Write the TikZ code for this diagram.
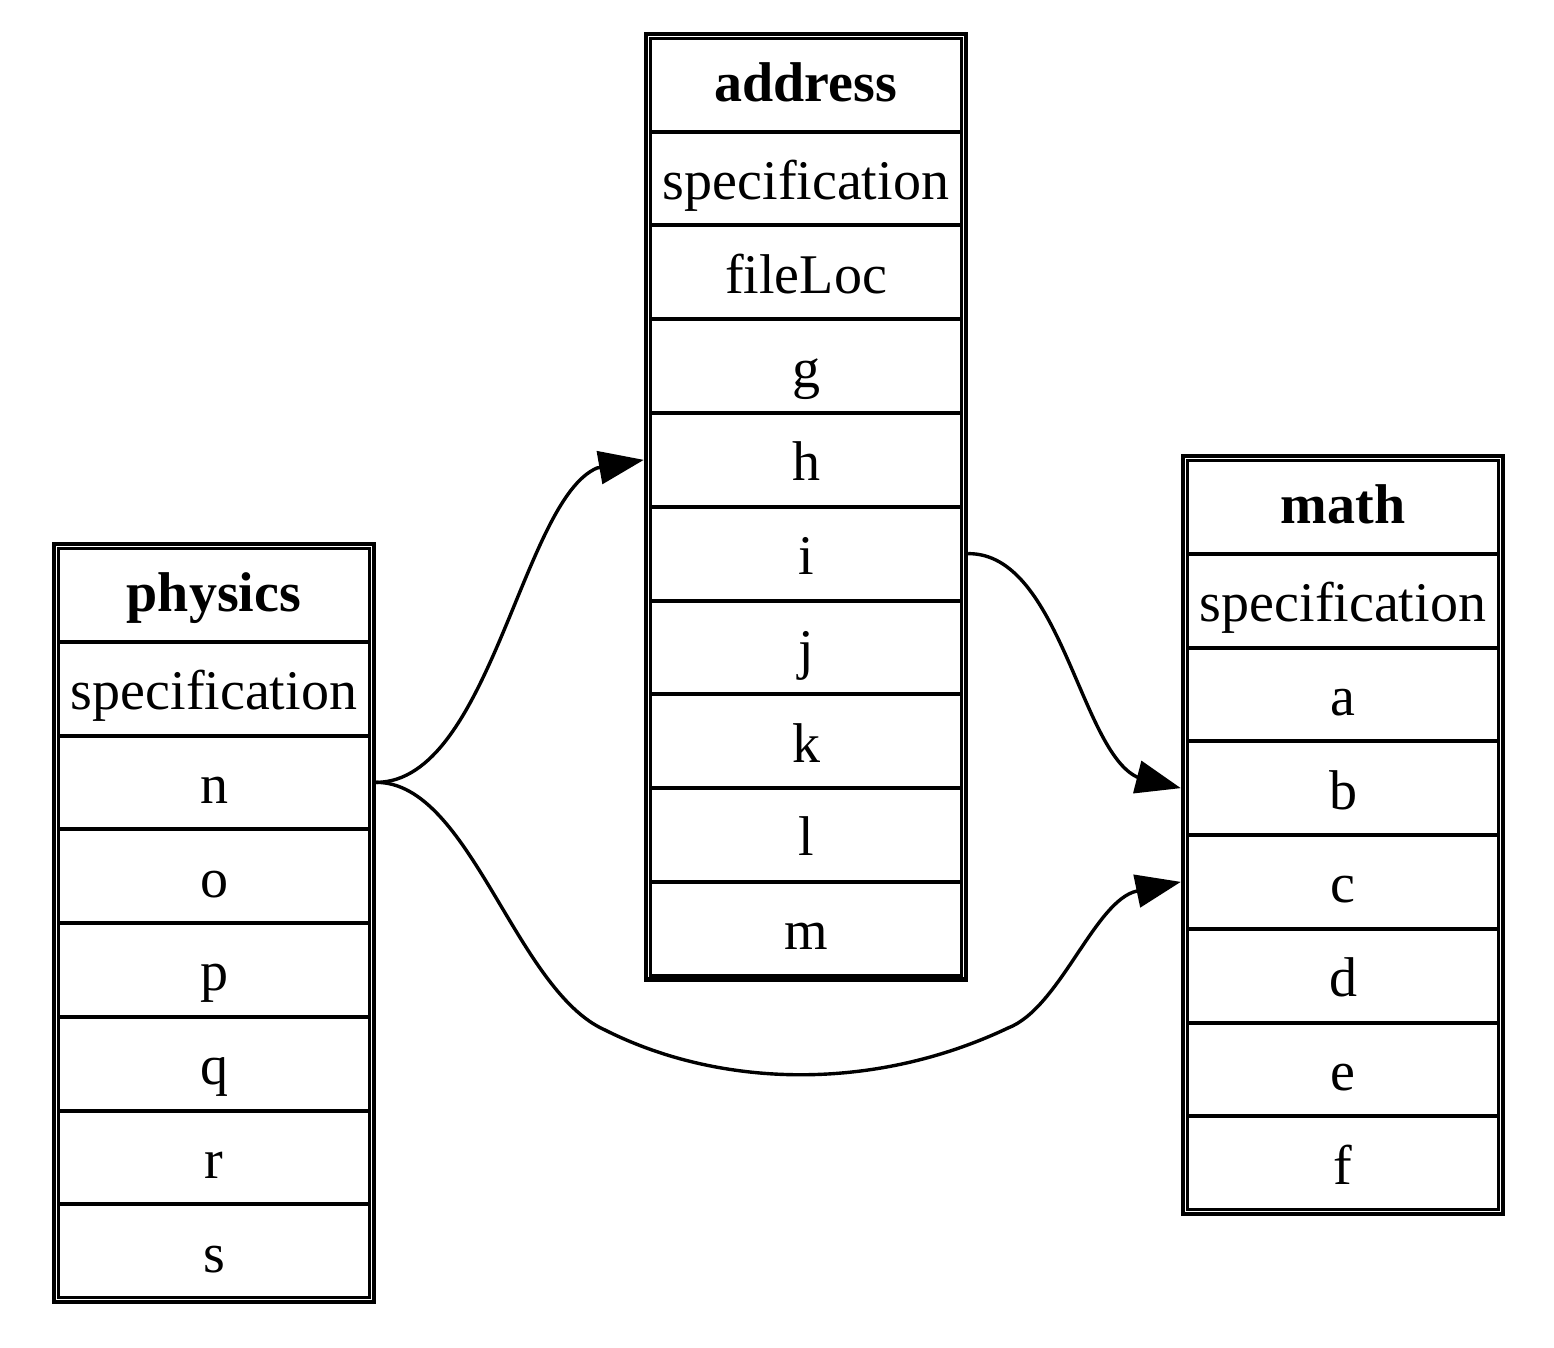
\documentclass[tikz,border=0pt]{standalone}
\usepackage{fontspec}
\setmainfont{Liberation Serif}
\usetikzlibrary{arrows.meta}
\begin{document}
\begin{tikzpicture}[x=1pt,y=-1pt,
  cell/.style={minimum width=324pt,minimum height=93.75pt,inner sep=0pt,
    text height=50pt,text depth=8pt,anchor=center,
    font=\fontsize{56}{60}\selectfont},
  headcell/.style={cell,text height=50pt,text depth=16pt,font=\fontsize{56}{60}\selectfont\bfseries},
  outerb/.style={draw=black,line width=4.3pt},
  innerb/.style={draw=black,line width=3.2pt},
  sepb/.style={draw=black,line width=4pt},
  edge/.style={draw=black,line width=3.4pt,-{Triangle[length=45pt,width=33pt]}}
]
\useasboundingbox[fill=white] (0,0) rectangle (1554,1348);

% ---------- physics table ----------
\def\xo{52}\def\yo{542}\def\nr{8}
\node[headcell] (ph0) at ({\xo+162},{\yo+6+0.5*93.75}) {physics};
\foreach \t/\i in {specification/1,n/2,o/3,p/4,q/5,r/6,s/7}
  \node[cell] (ph\i) at ({\xo+162},{\yo+6+(\i+0.5)*93.75}) {\t};
\draw[outerb] ({\xo+2.15},{\yo+2.15}) rectangle ({\xo+324-2.15},{\yo+12+\nr*93.75-2.15});
\draw[innerb] ({\xo+6.2},{\yo+6.2}) rectangle ({\xo+324-6.2},{\yo+12+\nr*93.75-6.2});
\foreach \i in {1,...,7}
  \draw[sepb] ({\xo+6.2},{\yo+6+\i*93.75}) -- ({\xo+324-6.2},{\yo+6+\i*93.75});

% ---------- address table ----------
\def\xo{644}\def\yo{32}\def\nr{10}
\node[headcell] (ad0) at ({\xo+162},{\yo+6+0.5*93.75}) {address};
\foreach \t/\i in {specification/1,fileLoc/2,g/3,h/4,i/5,j/6,k/7,l/8,m/9}
  \node[cell] (ad\i) at ({\xo+162},{\yo+6+(\i+0.5)*93.75}) {\t};
\draw[outerb] ({\xo+2.15},{\yo+2.15}) rectangle ({\xo+324-2.15},{\yo+12+\nr*93.75-2.15});
\draw[innerb] ({\xo+6.2},{\yo+6.2}) rectangle ({\xo+324-6.2},{\yo+12+\nr*93.75-6.2});
\foreach \i in {1,...,9}
  \draw[sepb] ({\xo+6.2},{\yo+6+\i*93.75}) -- ({\xo+324-6.2},{\yo+6+\i*93.75});

% ---------- math table ----------
\def\xo{1181}\def\yo{454}\def\nr{8}
\node[headcell] (ma0) at ({\xo+162},{\yo+6+0.5*93.75}) {math};
\foreach \t/\i in {specification/1,a/2,b/3,c/4,d/5,e/6,f/7}
  \node[cell] (ma\i) at ({\xo+162},{\yo+6+(\i+0.5)*93.75}) {\t};
\draw[outerb] ({\xo+2.15},{\yo+2.15}) rectangle ({\xo+324-2.15},{\yo+12+\nr*93.75-2.15});
\draw[innerb] ({\xo+6.2},{\yo+6.2}) rectangle ({\xo+324-6.2},{\yo+12+\nr*93.75-6.2});
\foreach \i in {1,...,7}
  \draw[sepb] ({\xo+6.2},{\yo+6+\i*93.75}) -- ({\xo+324-6.2},{\yo+6+\i*93.75});

% ---------- edges ----------
\draw[edge] (ph2.east) .. controls (490,782) and (522,500) .. (597,468) -- (ad4.west);
\draw[edge] (ad5.east) .. controls (1060,553) and (1080,750) .. (1137,777) -- (ma3.west);
\draw[edge] (ph2.east) .. controls (470,782) and (515,990) .. (605,1030)
  .. controls (720,1088) and (873,1092) .. (1008,1028)
  .. controls (1060,1008) and (1095,900) .. (1137,891) -- (ma4.west);
\end{tikzpicture}
\end{document}
